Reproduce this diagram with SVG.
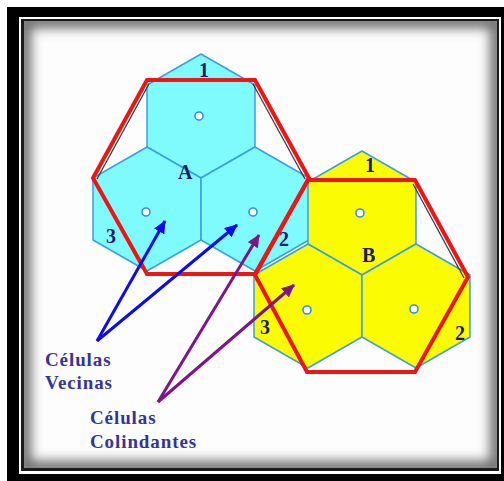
<svg xmlns="http://www.w3.org/2000/svg" width="504" height="481" viewBox="0 0 504 481">
<defs>
<style>
.cy{fill:#80fbfd;stroke:#3a9fe6;stroke-width:1.5;stroke-linejoin:round}
.ye{fill:#fbfb04;stroke:#3a9fe6;stroke-width:1.5;stroke-linejoin:round}
.red{fill:none;stroke:#ee1515;stroke-width:4;stroke-linejoin:miter}
.dk{fill:none;stroke:#333;stroke-width:1.2}
.dot{fill:#fff;stroke:#3a8fe0;stroke-width:1.6}
.num{font-family:"Liberation Serif",serif;font-weight:bold;font-size:20px;fill:#1c1c6a}
.lbl{font-family:"Liberation Serif",serif;font-weight:bold;font-size:19px;fill:#34349a;letter-spacing:0.9px}
.blue{stroke:#0b0bf0;stroke-width:3;fill:none}
.purp{stroke:#7e1488;stroke-width:3;fill:none}
</style>
<marker id="hb" markerUnits="userSpaceOnUse" markerWidth="14" markerHeight="12" refX="12" refY="6" orient="auto"><path d="M0,0 L13,6 L0,12 z" fill="#0b0bf0"/></marker>
<marker id="hp" markerUnits="userSpaceOnUse" markerWidth="14" markerHeight="12" refX="12" refY="6" orient="auto"><path d="M0,0 L13,6 L0,12 z" fill="#7e1488"/></marker>
<clipPath id="inner"><rect x="24" y="21" width="473" height="447"/></clipPath>
<filter id="blur" x="-10%" y="-10%" width="120%" height="120%"><feGaussianBlur stdDeviation="6"/></filter>
</defs>

<g id="frame">
<rect x="7" y="7" width="497" height="474" fill="#000"/>
<rect x="19" y="17" width="482" height="457" fill="#fff"/>
<rect x="21" y="19" width="478" height="452" fill="#1a1a1a"/>
<rect x="24" y="21" width="473" height="447" fill="#fdfdfd"/>
<rect x="24" y="21" width="473" height="447" fill="none" stroke="#6a6a6a" stroke-width="14" filter="url(#blur)" clip-path="url(#inner)"/>
</g>

<g id="cluster-A">
<g id="cellA-top"><polygon class="cy" points="201,54 255,85 255,147 201,178 147,147 147,85"/><circle class="dot" cx="199" cy="116" r="4"/></g>
<g id="cellA-left"><polygon class="cy" points="147,147 201,178 201,240 147,271 93,240 93,178"/><circle class="dot" cx="146" cy="212" r="4"/></g>
<g id="cellA-right"><polygon class="cy" points="255,147 309,178 309,240 255,271 201,240 201,178"/><circle class="dot" cx="253" cy="212" r="4"/></g>
</g>

<g id="cluster-B">
<g id="cellB-top"><polygon class="ye" points="362,151 416,182 416,244 362,275 308,244 308,182"/><circle class="dot" cx="360" cy="213" r="4"/></g>
<g id="cellB-left"><polygon class="ye" points="308,244 362,275 362,337 308,368 254,337 254,275"/><circle class="dot" cx="307" cy="310" r="4"/></g>
<g id="cellB-right"><polygon class="ye" points="416,244 470,275 470,337 416,368 362,337 362,275"/><circle class="dot" cx="414" cy="309" r="4"/></g>
</g>

<g id="boundaries">
<line class="dk" x1="97" y1="179" x2="149" y2="84"/>
<line class="dk" x1="253" y1="84" x2="305" y2="179"/>
<line class="dk" x1="413" y1="184" x2="464" y2="278"/>
<polygon id="boundary-A" class="red" points="147,80 255,80 309,178 255,274 147,274 93,178"/>
<polygon id="boundary-B" class="red" points="308,180 415,180 468,277 415,372 307,372 255,275"/>
</g>

<g id="numbers">
<text class="num" x="199" y="77">1</text>
<text class="num" x="178" y="179">A</text>
<text class="num" x="106" y="243">3</text>
<text class="num" x="279" y="246">2</text>
<text class="num" x="365" y="172">1</text>
<text class="num" x="362" y="262">B</text>
<text class="num" x="260" y="334">3</text>
<text class="num" x="455" y="340">2</text>
</g>

<g id="connectors">
<line class="blue" x1="97" y1="341" x2="165" y2="221" marker-end="url(#hb)"/>
<line class="blue" x1="97" y1="341" x2="237" y2="225" marker-end="url(#hb)"/>
<line class="purp" x1="158" y1="402" x2="259" y2="235" marker-end="url(#hp)"/>
<line class="purp" x1="158" y1="402" x2="294" y2="285" marker-end="url(#hp)"/>
</g>

<g id="labels">
<text class="lbl" x="45" y="366">Células</text>
<text class="lbl" x="45" y="389">Vecinas</text>
<text class="lbl" x="90" y="424">Células</text>
<text class="lbl" x="90" y="448">Colindantes</text>
</g>
</svg>
